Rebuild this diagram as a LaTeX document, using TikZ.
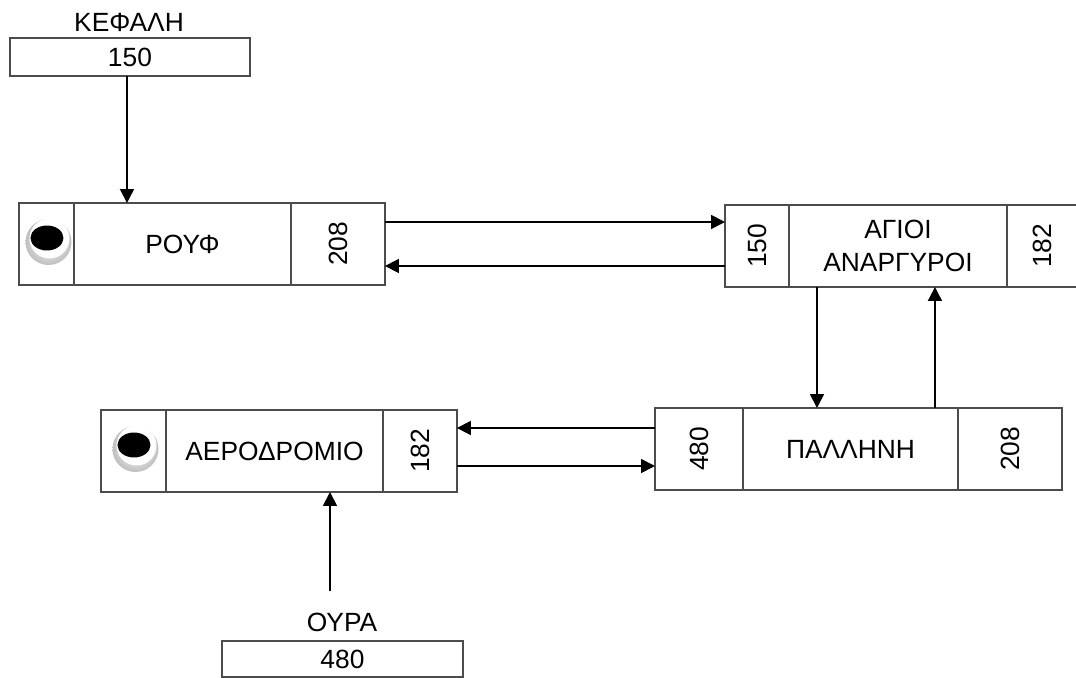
\documentclass[tikz,border=0pt]{standalone}
\usepackage{fontspec}
\setmainfont{Liberation Sans}
\usetikzlibrary{arrows.meta,positioning}

\begin{document}
\begin{tikzpicture}[x=0.02cm,y=-0.02cm,>={Triangle[length=2.8mm,width=2.8mm]},
  font=\fontsize{15}{19}\selectfont,
  cell/.style={draw=black!70,line width=1.1pt,minimum height=1.64cm,inner sep=0pt,outer sep=0pt,align=center},
  ptr/.style={draw=black!70,line width=1.1pt,minimum width=4.8cm,minimum height=0.76cm,inner sep=0pt,outer sep=0pt,anchor=north west},
  link/.style={->,line width=1pt}]
  \useasboundingbox (0,0) rectangle (1076,677);
  % head pointer
  \node (kefali) at (129,22) {ΚΕΦΑΛΗ};
  \node[ptr] (head) at (10,38) {150};
  % first node
  \node[cell,minimum width=1.1cm,anchor=north west] (rouf-l) at (19,203) {};
  \node[cell,minimum width=4.34cm,right=0pt of rouf-l] (rouf) {ΡΟΥΦ};
  \node[cell,minimum width=1.88cm,right=0pt of rouf] (rouf-r) {\rotatebox{90}{208}};
  % second node
  \node[cell,minimum width=1.28cm,anchor=north west] (agioi-l) at (725,205) {\rotatebox{90}{150}};
  \node[cell,minimum width=4.36cm,right=0pt of agioi-l] (agioi) {ΑΓΙΟΙ\\ΑΝΑΡΓΥΡΟΙ};
  \node[cell,minimum width=1.42cm,right=0pt of agioi] (agioi-r) {\rotatebox{90}{182}};
  % third node
  \node[cell,minimum width=1.76cm,anchor=north west] (pallini-l) at (655,408) {\rotatebox{90}{480}};
  \node[cell,minimum width=4.3cm,right=0pt of pallini-l] (pallini) {ΠΑΛΛΗΝΗ};
  \node[cell,minimum width=2.08cm,right=0pt of pallini] (pallini-r) {\rotatebox{90}{208}};
  % last node
  \node[cell,minimum width=1.3cm,anchor=north west] (aero-l) at (101,410) {};
  \node[cell,minimum width=4.34cm,right=0pt of aero-l] (aero) {ΑΕΡΟΔΡΟΜΙΟ};
  \node[cell,minimum width=1.48cm,right=0pt of aero] (aero-r) {\rotatebox{90}{182}};
  % tail pointer
  \node (oura) at (342,622) {ΟΥΡΑ};
  \node[ptr,minimum width=4.82cm,minimum height=0.72cm] (tail) at (222,641) {480};
  % null pointers
  \foreach \n in {rouf-l,aero-l} {
    \shade[inner color=white,outer color=gray!50] ([shift={(0.04cm,0.04cm)}]\n.center) circle[radius=0.46cm];
    \fill[white] ([shift={(0.06cm,0.11cm)}]\n.center) circle[radius=0.4cm];
    \fill[black] ([shift={(0.01cm,0.12cm)}]\n.center) ellipse[x radius=0.33cm,y radius=0.25cm];
  }
  % links
  \draw[link] ([xshift=-0.06cm]head.south) -- ([xshift=-0.06cm]head.south |- rouf.north);
  \draw[link] ([yshift=0.44cm]rouf-r.east) -- ([yshift=0.44cm]rouf-r.east -| agioi-l.west);
  \draw[link] ([yshift=-0.44cm]rouf-r.east -| agioi-l.west) -- ([yshift=-0.44cm]rouf-r.east);
  \draw[link] ([xshift=-1.62cm]agioi.south) -- ([xshift=-1.62cm]agioi.south |- pallini.north);
  \draw[link] ([xshift=0.74cm]agioi.south |- pallini.north) -- ([xshift=0.74cm]agioi.south);
  \draw[link] ([yshift=0.42cm]pallini-l.west) -- ([yshift=0.42cm]pallini-l.west -| aero-r.east);
  \draw[link] ([yshift=-0.34cm]pallini-l.west -| aero-r.east) -- ([yshift=-0.34cm]pallini-l.west);
  \draw[link] ([xshift=-0.24cm,yshift=0.3cm]oura.north) -- ([xshift=-0.24cm]oura.north |- aero.south);
\end{tikzpicture}
\end{document}
